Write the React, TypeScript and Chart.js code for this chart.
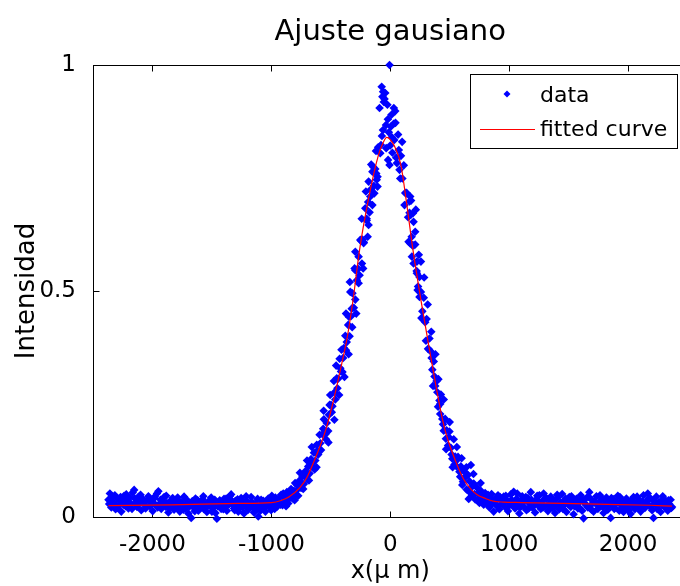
import React, { useEffect, useRef } from "react";
import { Chart, registerables } from "chart.js";

Chart.register(...registerables);

const titleText = "Ajuste gausiano";
const xLabel = "x(\u03bc m)";
const yLabel = "Intensidad";
const xTicks = [-2000, -1000, 0, 1000, 2000];
const yTicks = [0, 0.5, 1];
const seriesLabels = ["data", "fitted curve"];

// measured data points [x (µm), intensity]
const dataPoints: [number, number][] = [
  [-2370, 0.038], [-2358, 0.052], [-2346, 0.021], [-2334, 0.045], [-2322, 0.03], [-2310, 0.017], [-2298, 0.041], [-2286, 0.026],
  [-2274, 0.036], [-2262, 0.012], [-2250, 0.033], [-2238, 0.047], [-2226, 0.024], [-2214, 0.039], [-2202, 0.019], [-2190, 0.043],
  [-2178, 0.029], [-2166, 0.054], [-2154, 0.06], [-2142, 0.031], [-2130, 0.022], [-2118, 0.044], [-2106, 0.035], [-2094, 0.015],
  [-2082, 0.04], [-2070, 0.028], [-2058, 0.019], [-2046, 0.037], [-2034, 0.046], [-2022, 0.024], [-2010, 0.032], [-1998, 0.013],
  [-1986, 0.041], [-1974, 0.027], [-1962, 0.052], [-1950, 0.057], [-1938, 0.03], [-1926, 0.018], [-1914, 0.036], [-1902, 0.044],
  [-1890, 0.023], [-1878, 0.031], [-1866, 0.01], [-1854, 0.034], [-1842, 0.025], [-1830, 0.042], [-1818, 0.016], [-1806, 0.029],
  [-1794, 0.038], [-1782, 0.021], [-1770, 0.012], [-1758, 0.033], [-1746, 0.026], [-1734, 0.045], [-1722, 0.019], [-1710, 0.03],
  [-1698, 0.008], [-1686, 0.024], [-1674, -0.002], [-1662, 0.035], [-1650, 0.02], [-1638, 0.041], [-1626, 0.027], [-1614, 0.014],
  [-1602, 0.032], [-1590, 0.022], [-1578, 0.039], [-1566, 0.017], [-1554, 0.028], [-1542, 0.011], [-1530, 0.034], [-1518, 0.025],
  [-1506, 0.043], [-1494, 0.02], [-1482, 0.031], [-1470, 0.009], [-1458, -0.004], [-1446, 0.026], [-1434, 0.037], [-1422, 0.018],
  [-1410, 0.029], [-1398, 0.04], [-1386, 0.023], [-1374, 0.014], [-1362, 0.033], [-1350, 0.046], [-1338, 0.05], [-1326, 0.027],
  [-1314, 0.019], [-1302, 0.036], [-1290, 0.024], [-1278, 0.012], [-1266, 0.031], [-1254, 0.042], [-1242, 0.021], [-1230, 0.008],
  [-1218, 0.027], [-1206, 0.035], [-1194, 0.016], [-1182, 0.029], [-1170, 0.044], [-1158, 0.022], [-1146, 0.01], [-1134, 0.03],
  [-1122, 0.018], [-1110, 0.001], [-1098, 0.026], [-1086, 0.038], [-1074, 0.02], [-1062, 0.033], [-1050, 0.012], [-1038, 0.028],
  [-1026, 0.041], [-1014, 0.024], [-1002, 0.015], [-990, 0.034], [-978, 0.027], [-966, 0.043],
  [-954, 0.022], [-942, 0.04], [-930, 0.031], [-918, 0.049], [-906, 0.026], [-894, 0.044], [-882, 0.036], [-870, 0.055],
  [-858, 0.03], [-846, 0.048], [-834, 0.062], [-822, 0.041], [-810, 0.058], [-798, 0.05], [-786, 0.072], [-774, 0.047],
  [-762, 0.081], [-750, 0.064], [-738, 0.09], [-726, 0.073], [-714, 0.101], [-702, 0.085], [-690, 0.112], [-678, 0.096],
  [-666, 0.128], [-654, 0.11], [-642, 0.142], [-630, 0.125], [-618, 0.16], [-606, 0.138],
  [-594, 0.182], [-582, 0.148], [-570, 0.183], [-558, 0.216], [-546, 0.183], [-534, 0.208], [-522, 0.19], [-510, 0.248],
  [-498, 0.248], [-486, 0.245], [-474, 0.301], [-462, 0.26], [-450, 0.307], [-438, 0.306], [-426, 0.35], [-414, 0.322],
  [-402, 0.321], [-390, 0.374], [-378, 0.401], [-366, 0.387], [-354, 0.425], [-342, 0.4], [-330, 0.444], [-318, 0.495],
  [-306, 0.463], [-336, 0.498],
  [-294, 0.481], [-294, 0.587], [-294, 0.546], [-282, 0.547], [-280, 0.524], [-270, 0.549], [-266, 0.576], [-266, 0.517],
  [-258, 0.535], [-252, 0.613], [-246, 0.611], [-238, 0.561], [-234, 0.614], [-224, 0.606], [-222, 0.608], [-210, 0.683],
  [-198, 0.656], [-198, 0.66], [-186, 0.697], [-182, 0.742], [-182, 0.646], [-174, 0.674], [-168, 0.709], [-162, 0.725],
  [-150, 0.764], [-145, 0.775], [-138, 0.733], [-134, 0.716], [-126, 0.77], [-118, 0.76], [-114, 0.746], [-107, 0.753],
  [-107, 0.731], [-102, 0.818],
  [-90, 0.905], [-84, 0.805], [-78, 0.823], [-72, 0.952], [-70, 0.843], [-66, 0.93], [-61, 0.856], [-60, 0.941],
  [-54, 0.918], [-48, 0.925], [-42, 0.938], [-36, 0.867], [-34, 0.816], [-24, 0.912], [-20, 0.88], [-18, 0.79],
  [-12, 0.851], [-6, 1.0], [-6, 0.779], [0, 0.822], [6, 0.864], [10, 0.89], [14, 0.84], [18, 0.806],
  [28, 0.87], [30, 0.905], [34, 0.834], [42, 0.898], [44, 0.872], [50, 0.795], [56, 0.783], [66, 0.846],
  [72, 0.812], [78, 0.768], [84, 0.749],
  [90, 0.799], [102, 0.749], [114, 0.778], [126, 0.717], [134, 0.716], [138, 0.717], [150, 0.663], [154, 0.609],
  [162, 0.673], [162, 0.698], [168, 0.709], [168, 0.605], [174, 0.669], [182, 0.576], [186, 0.601], [191, 0.672],
  [196, 0.653], [196, 0.561], [198, 0.601], [210, 0.603], [210, 0.631], [222, 0.544], [224, 0.565], [224, 0.539],
  [230, 0.502], [234, 0.51], [246, 0.531], [246, 0.487], [258, 0.498], [258, 0.565], [270, 0.455], [282, 0.485],
  [294, 0.431], [306, 0.438], [318, 0.372], [330, 0.395], [342, 0.366], [354, 0.326], [366, 0.344], [378, 0.29],
  [390, 0.301], [402, 0.244], [414, 0.258], [426, 0.271], [438, 0.217], [450, 0.191], [462, 0.217], [474, 0.192],
  [486, 0.158], [498, 0.189], [510, 0.153], [522, 0.129], [534, 0.172], [546, 0.134], [558, 0.112], [570, 0.133],
  [582, 0.1], [594, 0.112],
  [606, 0.071], [618, 0.104], [630, 0.088], [642, 0.061], [654, 0.093], [666, 0.079], [678, 0.115], [690, 0.048],
  [702, 0.074], [714, 0.039], [726, 0.066], [738, 0.052], [750, 0.031], [762, 0.058], [774, 0.044], [786, 0.027],
  [798, 0.053], [810, 0.035], [822, 0.049], [834, 0.021], [846, 0.043], [858, 0.03], [870, 0.012], [882, 0.039],
  [894, 0.026], [906, 0.048], [918, 0.017], [930, 0.036], [942, 0.029],
  [954, 0.045], [966, 0.022], [978, 0.038], [990, 0.013], [1002, 0.031], [1014, 0.05], [1026, 0.027], [1038, 0.056],
  [1050, 0.019], [1062, 0.04], [1074, 0.029], [1086, 0.008], [1098, 0.034], [1110, 0.046], [1122, 0.023], [1134, 0.037],
  [1146, 0.015], [1158, 0.042], [1170, 0.03], [1182, 0.055], [1194, 0.021], [1206, 0.033], [1218, 0.01], [1230, 0.039],
  [1242, 0.026], [1254, 0.048], [1266, 0.018], [1278, 0.035], [1290, 0.052], [1302, 0.024], [1314, 0.041], [1326, 0.013],
  [1338, 0.03], [1350, 0.045], [1362, 0.02], [1374, 0.036], [1386, 0.009], [1398, 0.028], [1410, 0.043], [1422, 0.017],
  [1434, 0.032], [1446, 0.051], [1458, 0.025], [1470, 0.038], [1482, 0.011], [1494, 0.029], [1506, 0.044], [1518, 0.022],
  [1530, 0.035], [1542, 0.006], [1554, 0.027], [1566, 0.04], [1578, 0.019], [1590, 0.033], [1602, 0.048], [1614, 0.014],
  [1626, -0.003], [1638, 0.03], [1650, 0.042], [1662, 0.021], [1674, 0.055], [1686, 0.026], [1698, 0.037], [1710, 0.012],
  [1722, 0.031], [1734, 0.046], [1746, 0.018], [1758, 0.034], [1770, 0.024], [1782, 0.04], [1794, 0.009], [1806, 0.028],
  [1818, 0.043], [1830, 0.016], [1842, 0.033], [1854, -0.002], [1866, 0.025], [1878, 0.039], [1890, 0.02], [1902, 0.031],
  [1914, 0.047], [1926, 0.014], [1938, 0.027], [1950, 0.036], [1962, 0.011], [1974, 0.024], [1986, 0.041], [1998, 0.019],
  [2010, 0.03], [2022, 0.007], [2034, 0.026], [2046, 0.044], [2058, 0.017], [2070, 0.032], [2082, 0.023], [2094, 0.038],
  [2106, 0.012], [2118, 0.029], [2130, 0.048], [2142, 0.02], [2154, 0.034], [2166, 0.052], [2178, 0.025], [2190, 0.041],
  [2202, 0.015], [2214, -0.002], [2226, 0.03], [2238, 0.045], [2250, 0.019], [2262, 0.033], [2274, 0.011], [2286, 0.027],
  [2298, 0.04], [2310, 0.021], [2322, 0.035], [2334, 0.014], [2346, 0.029], [2358, 0.038], [2370, 0.022],
  // second row of samples (interleaved)
  [-2364, 0.029], [-2340, 0.034], [-2316, 0.048], [-2292, 0.02], [-2268, 0.044], [-2244, 0.027], [-2220, 0.05], [-2196, 0.031],
  [-2172, 0.018], [-2148, 0.041], [-2124, 0.026], [-2100, 0.049], [-2076, 0.033], [-2052, 0.022], [-2028, 0.04], [-2004, 0.028],
  [-1980, 0.045], [-1956, 0.021], [-1932, 0.038], [-1908, 0.027], [-1884, 0.047], [-1860, 0.019], [-1836, 0.035], [-1812, 0.024],
  [-1788, 0.043], [-1764, 0.028], [-1740, 0.016], [-1716, 0.039], [-1692, 0.025], [-1668, 0.034], [-1644, 0.013], [-1620, 0.037],
  [-1596, 0.029], [-1572, 0.046], [-1548, 0.021], [-1524, 0.033], [-1500, 0.012], [-1476, 0.038], [-1452, 0.024], [-1428, 0.031],
  [-1404, 0.017], [-1380, 0.041], [-1356, 0.028], [-1332, 0.036], [-1308, 0.015], [-1284, 0.039], [-1260, 0.022], [-1236, 0.034],
  [-1212, 0.046], [-1188, 0.02], [-1164, 0.033], [-1140, 0.026], [-1116, 0.04], [-1092, 0.014], [-1068, 0.036], [-1044, 0.023],
  [-1020, 0.032], [-996, 0.047], [-972, 0.018], [-948, 0.035], [-924, 0.027], [-900, 0.052], [-876, 0.024], [-852, 0.04],
  [-828, 0.054], [-804, 0.037], [-780, 0.061], [-756, 0.075], [-732, 0.062], [-708, 0.094], [-684, 0.081], [-660, 0.118],
  [-636, 0.105], [-612, 0.147], [-588, 0.163], [-564, 0.195], [-540, 0.172], [-516, 0.226], [-492, 0.232], [-468, 0.276],
  [-444, 0.285], [-420, 0.329], [-396, 0.352], [-372, 0.369], [-348, 0.443], [-324, 0.461],
  [324, 0.371], [348, 0.352], [372, 0.311], [396, 0.276], [420, 0.228], [444, 0.205], [468, 0.173], [492, 0.177],
  [516, 0.138], [540, 0.116], [564, 0.127], [588, 0.089], [612, 0.078], [636, 0.097], [660, 0.057], [684, 0.066],
  [708, 0.051], [732, 0.038], [756, 0.055], [780, 0.035], [804, 0.046], [828, 0.026], [852, 0.051], [876, 0.032],
  [900, 0.024], [924, 0.044], [948, 0.031], [972, 0.047], [996, 0.024], [1020, 0.038], [1044, 0.03], [1068, 0.052],
  [1092, 0.021], [1116, 0.035], [1140, 0.044], [1164, 0.019], [1188, 0.038], [1212, 0.027], [1236, 0.047], [1260, 0.031],
  [1284, 0.021], [1308, 0.043], [1332, 0.027], [1356, 0.036], [1380, 0.023], [1404, 0.049], [1428, 0.028], [1452, 0.018],
  [1476, 0.04], [1500, 0.032], [1524, 0.046], [1548, 0.024], [1572, 0.036], [1596, 0.019], [1620, 0.038], [1644, 0.027],
  [1668, 0.045], [1692, 0.016], [1716, 0.035], [1740, 0.028], [1764, 0.048], [1788, 0.022], [1812, 0.036], [1836, 0.025],
  [1860, 0.042], [1884, 0.018], [1908, 0.033], [1932, 0.044], [1956, 0.022], [1980, 0.031], [2004, 0.015], [2028, 0.037],
  [2052, 0.026], [2076, 0.045], [2100, 0.02], [2124, 0.034], [2148, 0.027], [2172, 0.041], [2196, 0.024], [2220, 0.036],
  [2244, 0.018], [2268, 0.031], [2292, 0.046], [2316, 0.025], [2340, 0.037], [2364, 0.02],
  // wider scatter on the slopes
  [-800, 0.075], [-760, 0.098], [-700, 0.125], [-660, 0.155], [-620, 0.11], [-560, 0.235], [-520, 0.165], [-505, 0.27],
  [-470, 0.215], [-455, 0.335], [-430, 0.27], [-410, 0.37], [-385, 0.31], [-372, 0.45], [-350, 0.36], [-340, 0.52],
  [-320, 0.42], [-300, 0.55], [-286, 0.45], [-240, 0.66], [-228, 0.55], [-205, 0.72], [-190, 0.62], [-160, 0.78],
  [-150, 0.69], [-120, 0.81],
  [100, 0.83], [120, 0.69], [175, 0.7], [180, 0.62], [215, 0.68], [240, 0.58], [262, 0.44], [285, 0.53],
  [300, 0.39], [315, 0.47], [345, 0.41], [360, 0.29], [380, 0.36], [405, 0.305], [420, 0.25], [450, 0.26],
  [470, 0.15], [500, 0.21], [525, 0.11], [560, 0.155], [600, 0.13], [640, 0.11], [700, 0.095], [760, 0.075],
  [660, 0.04],
];

// fitted curve
const fitX = [-2370, -1840, -1280, -1000, -924, -850, -760, -700, -640, -590, -540, -480, -420, -360, -313, -258, -185, -100, -60, -30, 0, 40, 90, 134, 191, 258, 330, 390, 440, 476, 546, 616, 680, 728, 800, 866, 950, 1110, 1650, 2180, 2370];
const fitY = [0.025, 0.027, 0.03, 0.032, 0.036, 0.045, 0.065, 0.088, 0.124, 0.157, 0.195, 0.255, 0.325, 0.4, 0.48, 0.591, 0.701, 0.8, 0.828, 0.84, 0.835, 0.818, 0.778, 0.701, 0.591, 0.48, 0.37, 0.282, 0.215, 0.178, 0.126, 0.084, 0.061, 0.05, 0.041, 0.035, 0.033, 0.032, 0.029, 0.026, 0.024];

const FONT = "DejaVu Sans";

const boxPlugin = {
  id: "matlabBox",
  beforeDatasetsDraw(chart: any) {
    const { ctx, chartArea } = chart;
    const l = Math.round(chartArea.left) + 0.5;
    const r = Math.round(chartArea.right) + 0.5;
    const t = Math.round(chartArea.top) + 0.5;
    const b = Math.round(chartArea.bottom) + 0.5;
    ctx.save();
    ctx.strokeStyle = "#000";
    ctx.lineWidth = 1;
    ctx.strokeRect(l, t, r - l, b - t);
    const tl = 6;
    ctx.beginPath();
    const xs = chart.scales.x;
    xTicks.forEach((v) => {
      const px = Math.round(xs.getPixelForValue(v)) + 0.5;
      ctx.moveTo(px, b);
      ctx.lineTo(px, b - tl);
      ctx.moveTo(px, t);
      ctx.lineTo(px, t + tl);
    });
    const ys = chart.scales.y;
    yTicks.forEach((v) => {
      const py = Math.round(ys.getPixelForValue(v)) + 0.5;
      ctx.moveTo(l, py);
      ctx.lineTo(l + tl, py);
      ctx.moveTo(r, py);
      ctx.lineTo(r - tl, py);
    });
    ctx.stroke();
    ctx.restore();
  },
};

const legendPlugin = {
  id: "matlabLegend",
  afterDraw(chart: any) {
    const { ctx, chartArea } = chart;
    ctx.save();
    ctx.font = `22px "${FONT}"`;
    const textW = Math.max(...seriesLabels.map((s) => ctx.measureText(s).width));
    const sample = 70;
    const w = Math.round(sample + textW + 10);
    const h = 74;
    const right = Math.round(chartArea.right - 10.5);
    const left = right - w;
    const top = Math.round(chartArea.top + 9);
    ctx.fillStyle = "#fff";
    ctx.fillRect(left, top, w, h);
    ctx.strokeStyle = "#000";
    ctx.lineWidth = 1;
    ctx.strokeRect(left + 0.5, top + 0.5, w, h);
    const dataDs = chart.data.datasets.find((d: any) => d.label === seriesLabels[0]);
    const fitDs = chart.data.datasets.find((d: any) => d.label === seriesLabels[1]);
    const cy1 = top + 20;
    const mx = left + 37;
    ctx.fillStyle = dataDs.backgroundColor;
    ctx.beginPath();
    ctx.moveTo(mx, cy1 - 3.5);
    ctx.lineTo(mx + 3.5, cy1);
    ctx.lineTo(mx, cy1 + 3.5);
    ctx.lineTo(mx - 3.5, cy1);
    ctx.closePath();
    ctx.fill();
    const cy2 = top + 55;
    ctx.strokeStyle = fitDs.borderColor;
    ctx.lineWidth = 1.2;
    ctx.beginPath();
    ctx.moveTo(left + 10, cy2 + 0.5);
    ctx.lineTo(left + 65, cy2 + 0.5);
    ctx.stroke();
    ctx.fillStyle = "#000";
    ctx.textBaseline = "middle";
    ctx.textAlign = "left";
    ctx.fillText(seriesLabels[0], left + sample, cy1 + 2);
    ctx.fillText(seriesLabels[1], left + sample, cy2 + 1);
    ctx.restore();
  },
};

export default function App() {
  const ref = useRef<HTMLCanvasElement | null>(null);
  useEffect(() => {
    if (!ref.current) return;
    const chart = new Chart(ref.current, {
      type: "scatter",
      data: {
        datasets: [
          {
            label: seriesLabels[1],
            data: fitX.map((x, i) => ({ x, y: fitY[i] })),
            showLine: true,
            borderColor: "#ff0000",
            backgroundColor: "#ff0000",
            borderWidth: 1.2,
            pointRadius: 0,
            cubicInterpolationMode: "monotone",
            clip: false,
            order: 0,
          } as any,
          {
            label: seriesLabels[0],
            data: dataPoints.map(([x, y]) => ({ x, y })),
            pointStyle: "rectRot",
            pointRadius: 4.3,
            backgroundColor: "#0000ff",
            borderColor: "#0000ff",
            borderWidth: 0,
            clip: false,
            order: 1,
          } as any,
        ],
      },
      options: {
        responsive: false,
        animation: false,
        events: [],
        layout: { padding: { left: 0, right: 12.5, top: 0, bottom: 0 } },
        plugins: {
          legend: { display: false },
          tooltip: { enabled: false },
          title: {
            display: true,
            fullSize: false,
            text: titleText,
            color: "#000",
            font: { family: FONT, size: 29, weight: "normal", lineHeight: 1.2 },
            padding: { top: 15, bottom: 15.2 },
          },
        },
        scales: {
          x: {
            type: "linear",
            min: -2500,
            max: 2500,
            afterBuildTicks: (s: any) => {
              s.ticks = xTicks.map((v) => ({ value: v }));
            },
            afterFit: (s: any) => {
              s.height = 69;
            },
            grid: { display: false },
            border: { display: false },
            ticks: {
              color: "#000",
              autoSkip: false,
              maxRotation: 0,
              padding: 6,
              font: { family: FONT, size: 23, lineHeight: 1.2 },
              callback: (v: any) => String(v),
            },
            title: {
              display: true,
              text: xLabel,
              color: "#000",
              font: { family: FONT, size: 24, lineHeight: 1 },
              padding: { top: 0, bottom: 2 },
            },
          },
          y: {
            type: "linear",
            min: 0,
            max: 1,
            afterBuildTicks: (s: any) => {
              s.ticks = yTicks.map((v) => ({ value: v }));
            },
            afterFit: (s: any) => {
              s.width = 93;
            },
            grid: { display: false },
            border: { display: false },
            ticks: {
              color: "#000",
              padding: 9,
              font: { family: FONT, size: 23, lineHeight: 1.2 },
              callback: (v: any) => String(v),
            },
            title: {
              display: true,
              text: yLabel,
              color: "#000",
              font: { family: FONT, size: 26, lineHeight: 1 },
              padding: { top: 14.5, bottom: 0 },
            },
          },
        },
      },
      plugins: [boxPlugin, legendPlugin],
    });
    return () => chart.destroy();
  }, []);

  return (
    <div
      style={{
        position: "absolute",
        left: 0,
        top: 0,
        width: 680,
        height: 586,
        overflow: "hidden",
        background: "#fff",
      }}
    >
      <canvas ref={ref} width={700} height={586} style={{ display: "block" }} />
    </div>
  );
}
